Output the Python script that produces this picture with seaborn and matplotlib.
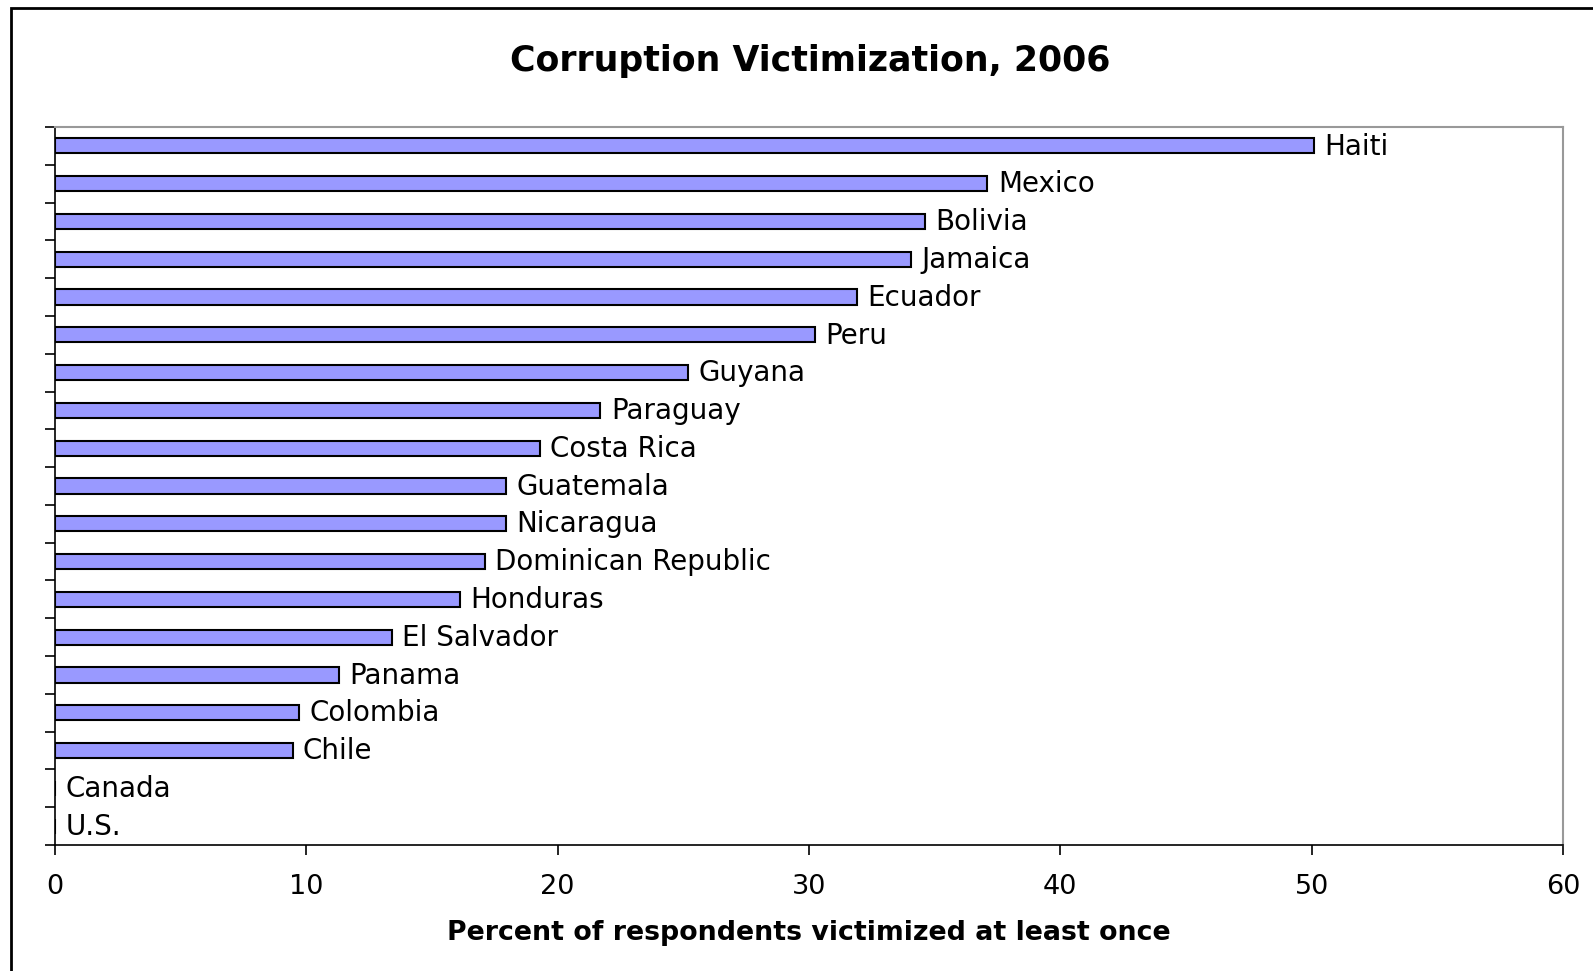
import matplotlib
matplotlib.use("Agg")
import matplotlib.pyplot as plt
import seaborn as sns
import pandas as pd
from matplotlib.patches import Rectangle

countries = ["Haiti", "Mexico", "Bolivia", "Jamaica", "Ecuador", "Peru", "Guyana",
             "Paraguay", "Costa Rica", "Guatemala", "Nicaragua", "Dominican Republic",
             "Honduras", "El Salvador", "Panama", "Colombia", "Chile", "Canada", "U.S."]
values = [50.1, 37.1, 34.6, 34.05, 31.9, 30.25, 25.2, 21.7, 19.3, 17.95, 17.95,
          17.1, 16.1, 13.4, 11.3, 9.7, 9.45, 0.0, 0.0]
x_ticks = [0, 10, 20, 30, 40, 50, 60]

title = "Corruption Victimization, 2006"
xlabel = "Percent of respondents victimized at least once"

sns.set_style("white")
plt.rcParams['font.family'] = ['DejaVu Sans']
plt.rcParams['text.color'] = 'black'
plt.rcParams['xtick.color'] = 'black'
plt.rcParams['axes.labelcolor'] = 'black'

df = pd.DataFrame({"country": countries, "value": values})

fig = plt.figure(figsize=(15.93, 9.71), dpi=100)
ax = fig.add_axes([55/1593, 1-845/971, (1563-55)/1593, (845-127)/971])

sns.barplot(data=df, x="value", y="country", order=countries, orient="h",
            color="#9999FF", edgecolor="black", linewidth=1.5, width=0.4,
            saturation=1, ax=ax)

for i, (c, v) in enumerate(zip(countries, values)):
    ax.annotate(c, xy=(v, i), xytext=(7.5, -0.5), textcoords="offset points",
                ha="left", va="center", fontsize=20, color="black")

ax.set_xlim(0, 60)
ax.set_ylim(len(countries) - 0.5, -0.5)
ax.set_xticks(x_ticks)
ax.set_xticklabels([str(t) for t in x_ticks], fontsize=19.5)
ax.set_yticks([i - 0.5 for i in range(len(countries) + 1)])
ax.set_yticklabels([])
ax.tick_params(axis="y", which="major", direction="out", length=7, width=1.2, color="black", left=True)
ax.tick_params(axis="x", which="major", direction="out", length=7, width=1.2, color="black",
               bottom=True, pad=14)
ax.set_ylabel("")
ax.set_xlabel(xlabel, fontsize=19.3, fontweight="bold", labelpad=14)

for side in ["left", "bottom"]:
    ax.spines[side].set_color("black")
    ax.spines[side].set_linewidth(1.2)
for side in ["top", "right"]:
    ax.spines[side].set_color("#999999")
    ax.spines[side].set_linewidth(1.5)
    ax.spines[side].set_visible(True)

fig.text(810/1593, 1 - 61/971, title, ha="center", va="center",
         fontsize=25, fontweight="bold")

border = Rectangle((11/1593, -0.05), 1.2, 1 - 8/971 + 0.05, transform=fig.transFigure,
                   fill=False, edgecolor="black", linewidth=2, clip_on=False)
fig.patches.append(border)

fig.savefig("out.png", dpi=100, facecolor="white")
